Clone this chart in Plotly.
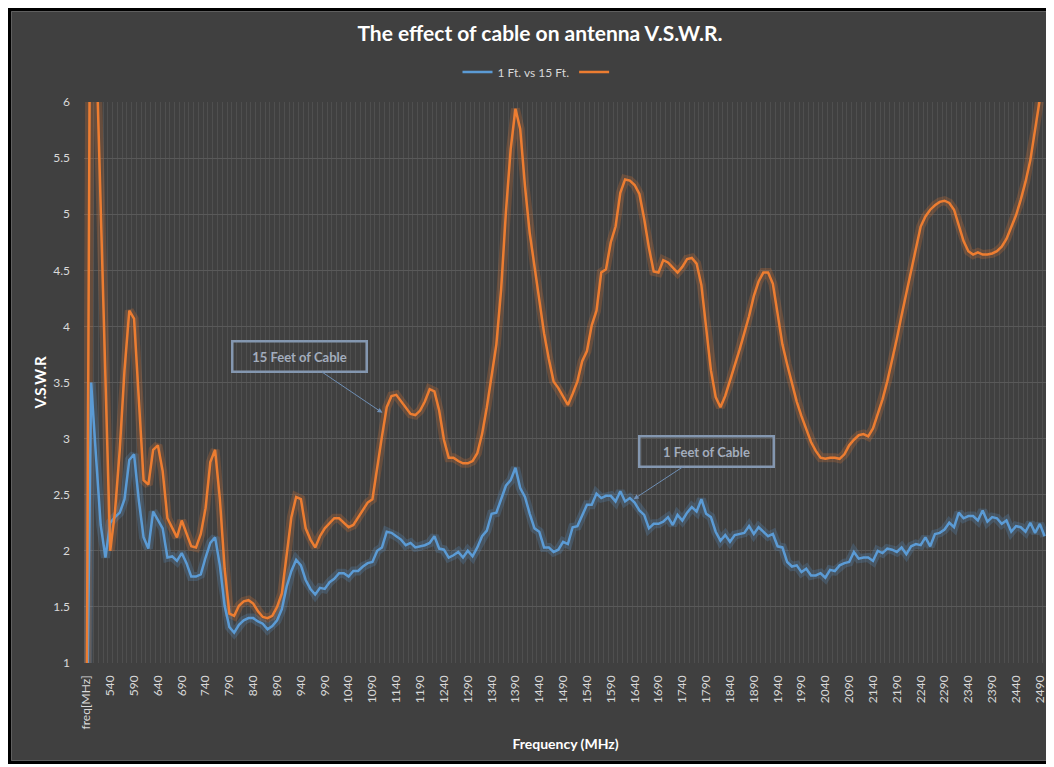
import plotly.graph_objects as go

# ---------------- data ----------------
FREQS = [str(f) for f in range(500, 2510, 10)]
CATEGORIES = ["freq[MHz]"] + FREQS

TICK_LABELS = ["freq[MHz]", "540", "590", "640", "690", "740", "790", "840", "890", "940",
               "990", "1040", "1090", "1140", "1190", "1240", "1290", "1340", "1390", "1440",
               "1490", "1540", "1590", "1640", "1690", "1740", "1790", "1840", "1890", "1940",
               "1990", "2040", "2090", "2140", "2190", "2240", "2290", "2340", "2390", "2440",
               "2490"]

BLUE_1FT = [
    0, 3.5, 2.85, 2.23, 1.94, 2.25, 2.30, 2.34, 2.46, 2.81,
    2.86, 2.45, 2.12, 2.02, 2.35, 2.28, 2.20, 1.94, 1.95, 1.91,
    1.98, 1.89, 1.77, 1.77, 1.79, 1.94, 2.07, 2.12, 1.87, 1.51,
    1.32, 1.27, 1.34, 1.38, 1.40, 1.40, 1.37, 1.35, 1.30, 1.33,
    1.38, 1.48, 1.68, 1.82, 1.92, 1.87, 1.74, 1.66, 1.61, 1.67,
    1.66, 1.72, 1.75, 1.80, 1.80, 1.77, 1.82, 1.82, 1.86, 1.89,
    1.90, 2.00, 2.03, 2.17, 2.16, 2.13, 2.10, 2.05, 2.07, 2.03,
    2.04, 2.05, 2.07, 2.13, 2.02, 2.01, 1.94, 1.96, 1.99, 1.94,
    2.00, 1.95, 2.03, 2.13, 2.18, 2.33, 2.34, 2.46, 2.58, 2.63,
    2.74, 2.56, 2.48, 2.33, 2.20, 2.17, 2.03, 2.03, 1.99, 2.01,
    2.08, 2.06, 2.21, 2.22, 2.31, 2.41, 2.41, 2.51, 2.47, 2.49,
    2.49, 2.44, 2.53, 2.44, 2.47, 2.43, 2.36, 2.32, 2.20, 2.24,
    2.24, 2.26, 2.30, 2.23, 2.32, 2.27, 2.34, 2.39, 2.35, 2.46,
    2.33, 2.30, 2.17, 2.09, 2.14, 2.08, 2.14, 2.15, 2.16, 2.22,
    2.15, 2.21, 2.17, 2.13, 2.15, 2.04, 2.03, 1.90, 1.86, 1.87,
    1.81, 1.84, 1.78, 1.78, 1.80, 1.76, 1.83, 1.82, 1.87, 1.89,
    1.90, 1.99, 1.93, 1.94, 1.94, 1.91, 2.00, 1.98, 2.02, 2.01,
    1.99, 2.03, 1.97, 2.04, 2.06, 2.05, 2.12, 2.04, 2.15, 2.16,
    2.19, 2.25, 2.21, 2.34, 2.29, 2.31, 2.31, 2.27, 2.36, 2.26,
    2.30, 2.29, 2.24, 2.27, 2.17, 2.22, 2.21, 2.17, 2.25, 2.16,
    2.24, 2.13,
]

ORANGE_15FT = [
    0, 9.0, 6.6, 5.0, 3.5, 2.0, 2.35, 2.9, 3.61, 4.14,
    4.07, 3.3, 2.63, 2.59, 2.90, 2.94, 2.71, 2.29, 2.20, 2.12,
    2.27, 2.15, 2.04, 2.03, 2.15, 2.38, 2.79, 2.90, 2.46, 1.84,
    1.44, 1.42, 1.51, 1.55, 1.56, 1.53, 1.46, 1.41, 1.40, 1.42,
    1.50, 1.62, 1.95, 2.30, 2.48, 2.46, 2.20, 2.10, 2.03, 2.13,
    2.20, 2.25, 2.29, 2.29, 2.25, 2.21, 2.23, 2.30, 2.36, 2.43,
    2.46, 2.76, 3.02, 3.28, 3.38, 3.39, 3.33, 3.28, 3.22, 3.21,
    3.25, 3.33, 3.44, 3.42, 3.25, 2.99, 2.83, 2.83, 2.80, 2.78,
    2.78, 2.80, 2.87, 3.04, 3.28, 3.56, 3.84, 4.33, 5.02, 5.58,
    5.94, 5.76, 5.25, 4.83, 4.53, 4.24, 3.94, 3.71, 3.51, 3.45,
    3.37, 3.30, 3.40, 3.51, 3.69, 3.78, 4.01, 4.14, 4.48, 4.51,
    4.75, 4.89, 5.19, 5.31, 5.30, 5.26, 5.18, 4.96, 4.70, 4.49,
    4.48, 4.59, 4.57, 4.52, 4.48, 4.53, 4.60, 4.61, 4.56, 4.37,
    4.01, 3.61, 3.37, 3.28, 3.38, 3.51, 3.65, 3.79, 3.94, 4.09,
    4.27, 4.40, 4.48, 4.48, 4.38, 4.10, 3.84, 3.66, 3.50, 3.33,
    3.20, 3.09, 2.97, 2.89, 2.83, 2.82, 2.83, 2.83, 2.82, 2.86,
    2.94, 2.99, 3.03, 3.04, 3.02, 3.09, 3.22, 3.35, 3.51, 3.69,
    3.89, 4.10, 4.30, 4.50, 4.70, 4.89, 4.98, 5.04, 5.08, 5.11,
    5.12, 5.10, 5.04, 4.91, 4.76, 4.67, 4.64, 4.66, 4.64, 4.64,
    4.65, 4.67, 4.71, 4.78, 4.88, 4.99, 5.13, 5.29, 5.48, 5.75,
    6.03, 6.3,
]

Y_TICKS = [1, 1.5, 2, 2.5, 3, 3.5, 4, 4.5, 5, 5.5, 6]
Y_TICK_TEXT = ["1", "1.5", "2", "2.5", "3", "3.5", "4", "4.5", "5", "5.5", "6"]

# ---------------- styling ----------------
BLUE = "#5B9BD5"
ORANGE = "#ED7D31"
BG = "#404040"
GRID = "#595959"
VGRID = "#4f4f4f"
TXT = "#d9d9d9"
FONT = "Lato, Arial, sans-serif"

W, H = 1044, 756
ML, MR, MT, MB = 76, 5, 94, 101
PW, PH = W - ML - MR, H - MT - MB

fig = go.Figure()

# glow traces
for vals, col in ((ORANGE_15FT, "rgba(237,125,49,0.22)"), (BLUE_1FT, "rgba(91,155,213,0.22)")):
    fig.add_trace(go.Scatter(x=CATEGORIES, y=vals, mode="lines",
                             line=dict(color=col, width=9), showlegend=False,
                             hoverinfo="skip"))

fig.add_trace(go.Scatter(x=CATEGORIES, y=BLUE_1FT, mode="lines", name="1 Ft. vs 15 Ft.",
                         line=dict(color=BLUE, width=2.5)))
fig.add_trace(go.Scatter(x=CATEGORIES, y=ORANGE_15FT, mode="lines", name=" ",
                         line=dict(color=ORANGE, width=2.5)))

tick_text = [c if c in TICK_LABELS else "" for c in CATEGORIES]

ANN_FONT = dict(family=FONT, size=13, color="#a3adbd")
ANN_STYLE = dict(xref="x", yref="y", showarrow=True, arrowhead=2, arrowsize=1,
                 arrowwidth=1, arrowcolor="#6f8fb5", font=ANN_FONT,
                 bordercolor="#8497b0", borderwidth=2.5, borderpad=4,
                 width=124, height=20, align="center", bgcolor="rgba(0,0,0,0)")

fig.update_layout(
    width=W, height=H, autosize=False,
    margin=dict(l=ML, r=MR, t=MT, b=MB, pad=0),
    paper_bgcolor=BG, plot_bgcolor=BG,
    font=dict(family=FONT, color=TXT, size=12),
    title=dict(text="<b>The effect of cable on antenna V.S.W.R.</b>",
               x=532 / W, xanchor="center", xref="container",
               y=1 - 26 / H, yanchor="middle", yref="container",
               font=dict(family=FONT, size=21, color="#ffffff")),
    legend=dict(orientation="h", x=(532 - ML) / PW, xanchor="center",
                y=1 + (MT - 64) / PH, yanchor="middle",
                font=dict(family=FONT, size=12, color=TXT),
                bgcolor="rgba(0,0,0,0)", itemwidth=30),
    showlegend=True,
    xaxis=dict(type="category", categoryorder="array", categoryarray=CATEGORIES,
               tickmode="array", tickvals=CATEGORIES, ticktext=tick_text,
               tickangle=-90, tickson="boundaries", showgrid=True,
               gridcolor=VGRID, gridwidth=1, ticks="", ticklabelstandoff=9,
               tickfont=dict(family=FONT, size=12, color=TXT),
               showline=False, zeroline=False, automargin=False,
               range=[-0.5, len(CATEGORIES) - 0.5],
               title=dict(text="<b>Frequency (MHz)</b>", standoff=10,
                          font=dict(family=FONT, size=14, color="#ffffff"))),
    yaxis=dict(range=[1, 6], tickmode="array", tickvals=Y_TICKS, ticktext=Y_TICK_TEXT,
               showgrid=True, gridcolor=GRID, gridwidth=1, zeroline=False,
               ticks="", ticklabelstandoff=13, showline=False, automargin=False,
               tickfont=dict(family=FONT, size=12, color=TXT),
               title=dict(text="<b>V.S.W.R</b>", standoff=2,
                          font=dict(family=FONT, size=15, color="#ffffff"))),
    annotations=[
        dict(x=62.1, y=3.23, text="<b>15 Feet of Cable</b>", ax=-83, ay=-56, **ANN_STYLE),
        dict(x=114.8, y=2.46, text="<b>1 Feet of Cable</b>", ax=73, ay=-48, **ANN_STYLE),
    ],
    shapes=[
        dict(type="rect", xref="paper", yref="paper", layer="above",
             x0=(-ML + 1.5) / PW, x1=1 + (MR - 1.5) / PW,
             y0=(-MB + 1.5) / PH, y1=1 + (MT - 1.5) / PH,
             line=dict(color="#000000", width=3)),
        dict(type="rect", xref="paper", yref="paper", layer="above",
             x0=(-ML + 3.5) / PW, x1=1 + (MR - 3.5) / PW,
             y0=(-MB + 3.5) / PH, y1=1 + (MT - 3.5) / PH,
             line=dict(color="#5f5f5f", width=1)),
    ],
)

fig.write_html("out.html")
